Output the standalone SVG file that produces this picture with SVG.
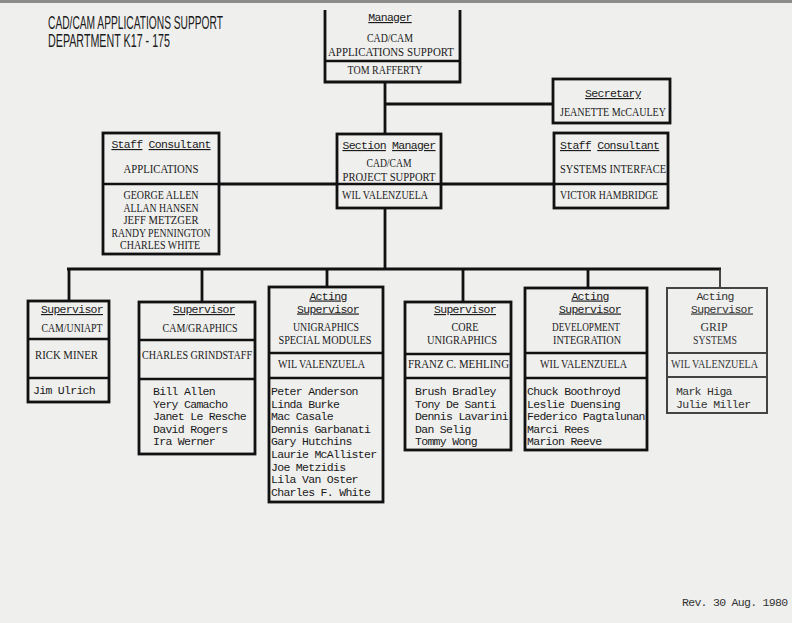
<svg xmlns="http://www.w3.org/2000/svg" width="792" height="623" viewBox="0 0 792 623">
<style>
.bx{fill:none;stroke:#111;stroke-width:2.8}
.dv{stroke:#111;stroke-width:2.6}
.gb{fill:none;stroke:#444;stroke-width:2}
.gd{stroke:#444;stroke-width:2}
.cn{fill:none;stroke:#111;stroke-width:2.8}
.m{font-family:"Liberation Mono",monospace;font-size:11.5px;letter-spacing:-0.7px;fill:#1a1a1a}
.s{font-family:"Liberation Serif",serif;font-size:12.3px;fill:#1a1a1a}
.c{text-anchor:middle}
.u{text-decoration:underline;text-underline-offset:3px}
.t{font-family:"Liberation Sans",sans-serif;font-size:18px;fill:#1a1a1a}
.g{fill:#333}
</style>
<rect width="792" height="623" fill="#efefee"/>
<rect width="792" height="3" fill="#8c8c8c"/>

<g id="title">
<text class="t" x="48" y="29" textLength="175" lengthAdjust="spacingAndGlyphs">CAD/CAM APPLICATIONS SUPPORT</text>
<text class="t" x="48" y="47" textLength="122" lengthAdjust="spacingAndGlyphs">DEPARTMENT K17 - 175</text>
</g>

<g id="connectors">
<path class="cn" d="M385,82 V134"/>
<path class="cn" d="M385,104 H553"/>
<path class="cn" d="M219,184 H337"/>
<path class="cn" d="M441,184 H554"/>
<path class="cn" d="M385,208 V269"/>
<path class="cn" d="M67,269 H721"/>
<path class="cn" d="M69,269 V301"/>
<path class="cn" d="M202,269 V302"/>
<path class="cn" d="M327,269 V287"/>
<path class="cn" d="M463,269 V302"/>
<path class="cn" d="M588,269 V288"/>
<path fill="none" stroke="#333" stroke-width="1.8" d="M720,269 V287"/>
</g>

<g id="manager">
<path class="bx" d="M325,10 V82 H460 V10"/>
<line class="dv" x1="325" y1="61" x2="460" y2="61"/>
<text class="m c" x="390" y="21"><tspan class="u">Manager</tspan></text>
<text class="s c" x="390" y="42" textLength="46" lengthAdjust="spacingAndGlyphs">CAD/CAM</text>
<text class="s c" x="391" y="55.5" textLength="126" lengthAdjust="spacingAndGlyphs">APPLICATIONS SUPPORT</text>
<text class="s c" x="385" y="74" textLength="75" lengthAdjust="spacingAndGlyphs">TOM RAFFERTY</text>
</g>

<g id="secretary">
<rect class="bx" x="553" y="79" width="117" height="44"/>
<text class="m c" x="613" y="97"><tspan class="u">Secretary</tspan></text>
<text class="s c" x="613" y="116" textLength="106" lengthAdjust="spacingAndGlyphs">JEANETTE McCAULEY</text>
</g>

<g id="staff-applications">
<rect class="bx" x="103" y="133" width="116" height="121"/>
<line class="dv" x1="103" y1="184" x2="219" y2="184"/>
<text class="m c" x="161" y="148"><tspan class="u">Staff</tspan> <tspan class="u">Consultant</tspan></text>
<text class="s c" x="161" y="173" textLength="75" lengthAdjust="spacingAndGlyphs">APPLICATIONS</text>
<text class="s c" x="161" y="199" textLength="75" lengthAdjust="spacingAndGlyphs">GEORGE ALLEN</text>
<text class="s c" x="161" y="211.5" textLength="75" lengthAdjust="spacingAndGlyphs">ALLAN HANSEN</text>
<text class="s c" x="161" y="224" textLength="75" lengthAdjust="spacingAndGlyphs">JEFF METZGER</text>
<text class="s c" x="161" y="236.5" textLength="99" lengthAdjust="spacingAndGlyphs">RANDY PENNINGTON</text>
<text class="s c" x="160" y="249" textLength="80" lengthAdjust="spacingAndGlyphs">CHARLES WHITE</text>
</g>

<g id="section-manager">
<rect class="bx" x="337" y="134" width="104" height="74"/>
<line class="dv" x1="337" y1="184" x2="441" y2="184"/>
<text class="m c" x="389" y="149"><tspan class="u">Section</tspan> <tspan class="u">Manager</tspan></text>
<text class="s c" x="389" y="167" textLength="45" lengthAdjust="spacingAndGlyphs">CAD/CAM</text>
<text class="s c" x="389" y="181" textLength="93" lengthAdjust="spacingAndGlyphs">PROJECT SUPPORT</text>
<text class="s" x="342" y="199" textLength="86" lengthAdjust="spacingAndGlyphs">WIL VALENZUELA</text>
</g>

<g id="staff-systems">
<rect class="bx" x="554" y="133" width="114" height="75"/>
<line class="dv" x1="554" y1="184" x2="668" y2="184"/>
<text class="m" x="560" y="149"><tspan class="u">Staff</tspan> <tspan class="u">Consultant</tspan></text>
<text class="s" x="560" y="173" textLength="106" lengthAdjust="spacingAndGlyphs">SYSTEMS INTERFACE</text>
<text class="s" x="560" y="199" textLength="98" lengthAdjust="spacingAndGlyphs">VICTOR HAMBRIDGE</text>
</g>

<g id="cam-uniapt">
<rect class="bx" x="28" y="301" width="81" height="101"/>
<line class="dv" x1="28" y1="339" x2="109" y2="339"/>
<line class="dv" x1="28" y1="378" x2="109" y2="378"/>
<text class="m c" x="72" y="313"><tspan class="u">Supervisor</tspan></text>
<text class="s c" x="72" y="332" textLength="61" lengthAdjust="spacingAndGlyphs">CAM/UNIAPT</text>
<text class="s" x="35" y="359" textLength="63" lengthAdjust="spacingAndGlyphs">RICK MINER</text>
<text class="m" x="33" y="394">Jim Ulrich</text>
</g>

<g id="cam-graphics">
<rect class="bx" x="139" y="302" width="116" height="152"/>
<line class="dv" x1="139" y1="340" x2="255" y2="340"/>
<line class="dv" x1="139" y1="379" x2="255" y2="379"/>
<text class="m c" x="204" y="313"><tspan class="u">Supervisor</tspan></text>
<text class="s c" x="200" y="332" textLength="75" lengthAdjust="spacingAndGlyphs">CAM/GRAPHICS</text>
<text class="s" x="142" y="359" textLength="110" lengthAdjust="spacingAndGlyphs">CHARLES GRINDSTAFF</text>
<text class="m" x="153" y="395">Bill Allen</text>
<text class="m" x="153" y="407.6">Yery Camacho</text>
<text class="m" x="153" y="420.2">Janet Le Resche</text>
<text class="m" x="153" y="432.8">David Rogers</text>
<text class="m" x="153" y="445.4">Ira Werner</text>
</g>

<g id="unigraphics-special">
<rect class="bx" x="269" y="287" width="114" height="215"/>
<line class="dv" x1="269" y1="353" x2="383" y2="353"/>
<line class="dv" x1="269" y1="378" x2="383" y2="378"/>
<text class="m c" x="328" y="299.5"><tspan class="u">Acting</tspan></text>
<text class="m c" x="328" y="312.5"><tspan class="u">Supervisor</tspan></text>
<text class="s c" x="326" y="331" textLength="66" lengthAdjust="spacingAndGlyphs">UNIGRAPHICS</text>
<text class="s c" x="325" y="344" textLength="93" lengthAdjust="spacingAndGlyphs">SPECIAL MODULES</text>
<text class="s" x="278" y="368" textLength="87" lengthAdjust="spacingAndGlyphs">WIL VALENZUELA</text>
<text class="m" x="271" y="395">Peter Anderson</text>
<text class="m" x="271" y="407.6">Linda Burke</text>
<text class="m" x="271" y="420.2">Mac Casale</text>
<text class="m" x="271" y="432.8">Dennis Garbanati</text>
<text class="m" x="271" y="445.4">Gary Hutchins</text>
<text class="m" x="271" y="458">Laurie McAllister</text>
<text class="m" x="271" y="470.6">Joe Metzidis</text>
<text class="m" x="271" y="483.2">Lila Van Oster</text>
<text class="m" x="271" y="495.8">Charles F. White</text>
</g>

<g id="core-unigraphics">
<rect class="bx" x="405" y="302" width="106" height="148"/>
<line class="dv" x1="405" y1="354" x2="511" y2="354"/>
<line class="dv" x1="405" y1="378" x2="511" y2="378"/>
<text class="m c" x="465" y="313"><tspan class="u">Supervisor</tspan></text>
<text class="s c" x="465" y="331" textLength="27" lengthAdjust="spacingAndGlyphs">CORE</text>
<text class="s c" x="462" y="344" textLength="70" lengthAdjust="spacingAndGlyphs">UNIGRAPHICS</text>
<text class="s" x="408" y="368" textLength="101" lengthAdjust="spacingAndGlyphs">FRANZ C. MEHLING</text>
<text class="m" x="415" y="395">Brush Bradley</text>
<text class="m" x="415" y="407.6">Tony De Santi</text>
<text class="m" x="415" y="420.2">Dennis Lavarini</text>
<text class="m" x="415" y="432.8">Dan Selig</text>
<text class="m" x="415" y="445.4">Tommy Wong</text>
</g>

<g id="development-integration">
<rect class="bx" x="525" y="288" width="122" height="162"/>
<line class="dv" x1="525" y1="353" x2="647" y2="353"/>
<line class="dv" x1="525" y1="378" x2="647" y2="378"/>
<text class="m c" x="590" y="299.5"><tspan class="u">Acting</tspan></text>
<text class="m c" x="590" y="312.5"><tspan class="u">Supervisor</tspan></text>
<text class="s c" x="586" y="331" textLength="68" lengthAdjust="spacingAndGlyphs">DEVELOPMENT</text>
<text class="s c" x="587" y="344" textLength="68" lengthAdjust="spacingAndGlyphs">INTEGRATION</text>
<text class="s" x="540" y="368" textLength="87" lengthAdjust="spacingAndGlyphs">WIL VALENZUELA</text>
<text class="m" x="527" y="395">Chuck Boothroyd</text>
<text class="m" x="527" y="407.6">Leslie Duensing</text>
<text class="m" x="527" y="420.2">Federico Pagtalunan</text>
<text class="m" x="527" y="432.8">Marci Rees</text>
<text class="m" x="527" y="445.4">Marion Reeve</text>
</g>

<g id="grip-systems">
<rect class="gb" x="667" y="288" width="100" height="125"/>
<line class="gd" x1="667" y1="353" x2="767" y2="353"/>
<line class="gd" x1="667" y1="377" x2="767" y2="377"/>
<text class="m c g" x="715" y="299.5">Acting</text>
<text class="m c g" x="722" y="312.5"><tspan class="u">Supervisor</tspan></text>
<text class="s c g" x="714" y="331" textLength="27" lengthAdjust="spacingAndGlyphs">GRIP</text>
<text class="s c g" x="715" y="344" textLength="44" lengthAdjust="spacingAndGlyphs">SYSTEMS</text>
<text class="s g" x="671" y="368" textLength="87" lengthAdjust="spacingAndGlyphs">WIL VALENZUELA</text>
<text class="m g" x="676" y="395">Mark Higa</text>
<text class="m g" x="676" y="407.6">Julie Miller</text>
</g>

<g id="revision">
<text class="m g" x="682" y="606">Rev. 30 Aug. 1980</text>
</g>
</svg>
